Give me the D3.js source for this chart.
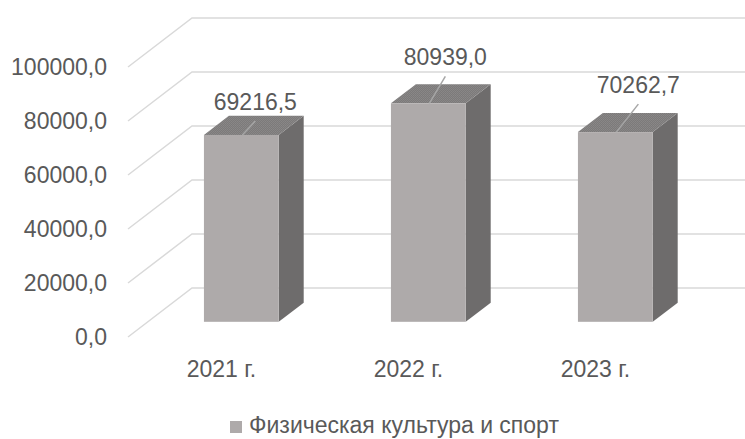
<!DOCTYPE html>
<html>
<head>
<meta charset="utf-8">
<script src="https://cdn.jsdelivr.net/npm/d3@7"></script>
<style>
  body { margin: 0; background: #fff; }
  text { font-family: "Liberation Sans", Arial, sans-serif; fill: #595959; }
</style>
</head>
<body>
<svg id="drawing_region"></svg>
<script>
// данные
const years = ["2021 г.", "2022 г.", "2023 г."];
const values = [69216.5, 80939.0, 70262.7];
const yTicks = [0, 20000, 40000, 60000, 80000, 100000];
const seriesName = "Физическая культура и спорт";

const width = 745, height = 439;

// передняя плоскость и вектор глубины (псевдо-3D как в Excel)
const x0 = 128, y0 = 337;
const depth = {dx: 64, dy: -49};
const barZ = [0.31, 0.70];   // передняя и задняя грань столбца по глубине

const svg = d3.select('#drawing_region')
    .attr('width', width)
    .attr('height', height);

const xscale = d3.scaleBand()
    .domain(years)
    .range([x0, 689])
    .paddingInner(0.6)
    .paddingOuter(0.3);

const yscale = d3.scaleLinear()
    .domain([0, 100000])
    .range([0, 270]);

const fmt = v => v.toFixed(1).replace('.', ',');

// текстура верхней грани
const defs = svg.append('defs');
const pat = defs.append('pattern')
    .attr('id', 'topTex')
    .attr('width', 2).attr('height', 2)
    .attr('patternUnits', 'userSpaceOnUse');
pat.append('rect').attr('width', 2).attr('height', 2).attr('fill', '#7c7a7a');
pat.append('rect').attr('width', 1).attr('height', 1).attr('fill', '#878585');
pat.append('rect').attr('x', 1).attr('y', 1).attr('width', 1).attr('height', 1).attr('fill', '#8a8888');

// сетка: диагональ по левой стене + горизонталь по задней стене
const grid = svg.append('g');
yTicks.forEach(t => {
    const h = yscale(t);
    grid.append('polyline')
        .attr('points', [
            [x0, y0 - h],
            [x0 + depth.dx, y0 + depth.dy - h],
            [width, y0 + depth.dy - h]
        ].map(p => p.join(',')).join(' '))
        .attr('fill', 'none')
        .attr('stroke', '#d9d9d9')
        .attr('stroke-width', 1.5);
});

// подписи оси Y
svg.append('g').selectAll('text')
    .data(yTicks).enter()
    .append('text')
    .attr('x', 107)
    .attr('y', d => y0 - yscale(d))
    .attr('dy', '0.35em')
    .attr('text-anchor', 'end')
    .attr('font-size', 23)
    .text(fmt);

// подписи категорий
svg.append('g').selectAll('text')
    .data(years).enter()
    .append('text')
    .attr('x', d => xscale(d) + xscale.bandwidth() / 2)
    .attr('y', 369)
    .attr('dy', '0.35em')
    .attr('text-anchor', 'middle')
    .attr('font-size', 23)
    .text(d => d);

// столбцы
const bw = xscale.bandwidth();
const fx = barZ[0] * depth.dx, fy = barZ[0] * depth.dy;
const bx = barZ[1] * depth.dx, by = barZ[1] * depth.dy;
const pts = a => a.map(p => p.join(',')).join(' ');

const bars = svg.append('g').selectAll('g')
    .data(years.map((c, i) => ({c: c, v: values[i]}))).enter()
    .append('g');

bars.each(function(d) {
    const g = d3.select(this);
    const xl = xscale(d.c), xr = xl + bw, h = yscale(d.v);
    // боковая грань
    g.append('polygon')
        .attr('points', pts([
            [xr + fx, y0 + fy - h], [xr + bx, y0 + by - h],
            [xr + bx, y0 + by], [xr + fx, y0 + fy]
        ]))
        .attr('fill', '#6e6c6c');
    // верхняя грань
    g.append('polygon')
        .attr('points', pts([
            [xl + fx, y0 + fy - h], [xr + fx, y0 + fy - h],
            [xr + bx, y0 + by - h], [xl + bx, y0 + by - h]
        ]))
        .attr('fill', 'url(#topTex)');
    // передняя грань
    g.append('rect')
        .attr('x', xl + fx)
        .attr('y', y0 + fy - h)
        .attr('width', bw)
        .attr('height', h)
        .attr('fill', '#aeaaaa');
});

// подписи данных с выносками (сдвиги как в оригинале)
const labelShift = [[14, -33], [17, -46], [23, -47]];
bars.each(function(d, i) {
    const g = d3.select(this);
    const cx = xscale(d.c) + bw / 2 + fx;
    const cy = y0 + fy - yscale(d.v);
    const lx = cx + labelShift[i][0], ly = cy + labelShift[i][1];
    g.append('line')
        .attr('x1', cx + 1).attr('y1', cy)
        .attr('x2', lx).attr('y2', ly + 19)
        .attr('stroke', '#a6a6a6')
        .attr('stroke-width', 1.5);
    g.append('text')
        .attr('x', lx)
        .attr('y', ly)
        .attr('dy', '0.35em')
        .attr('text-anchor', 'middle')
        .attr('font-size', 23)
        .text(fmt(d.v));
});

// легенда
const legend = svg.append('g').attr('transform', 'translate(230, 421)');
legend.append('rect')
    .attr('width', 12).attr('height', 12)
    .attr('fill', '#aeaaaa');
legend.append('text')
    .attr('x', 19)
    .attr('y', 12)
    .attr('font-size', 23)
    .text(seriesName);
</script>
</body>
</html>
